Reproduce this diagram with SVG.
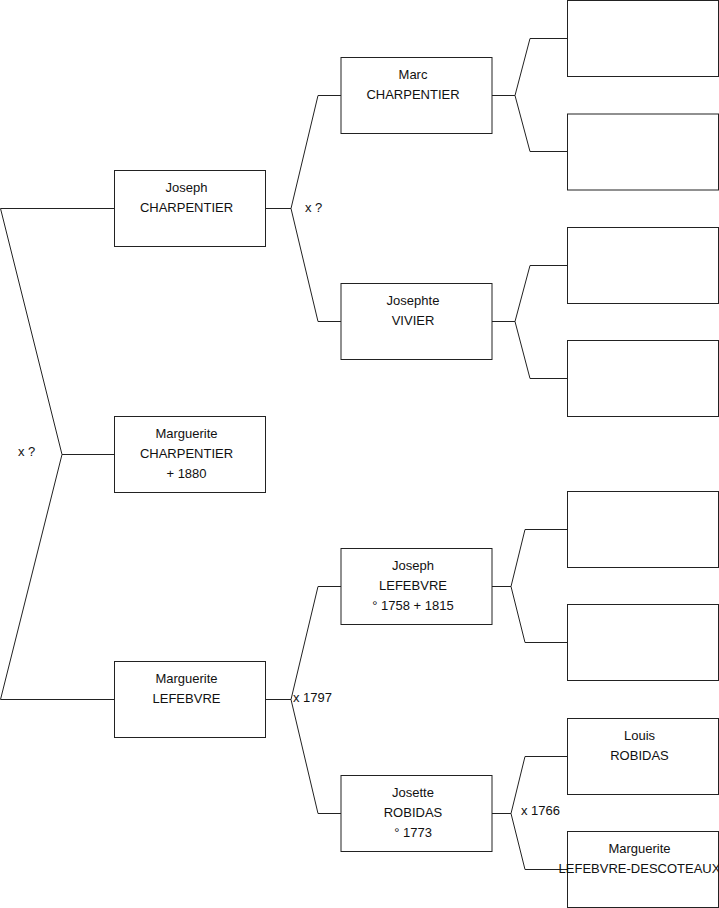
<svg xmlns="http://www.w3.org/2000/svg" width="719" height="908" viewBox="0 0 719 908">
<style>
.box{fill:#fff;stroke:#222;stroke-width:1}
.con{fill:none;stroke:#222;stroke-width:1}
text{font-family:"Liberation Sans",Arial,sans-serif;font-size:13px;fill:#111}
.c{text-anchor:middle}
</style>
<rect width="719" height="908" fill="#fff"/>
<g id="connectors">
<path class="con" d="M114.5,208.5 H0.5 L62,454.5 L0.5,699.5 H114.5 M62,454.5 H114.5"/>
<path class="con" d="M265.5,208.5 H291 L318,95.5 H341 M291,208.5 L318,321.5 H341"/>
<path class="con" d="M265.5,699.5 H291 L318,586.5 H341 M291,699.5 L318,813.5 H341"/>
<path class="con" d="M492,95.5 H515 L530,38.5 H567 M515,95.5 L530,151.5 H567"/>
<path class="con" d="M492,321.5 H515 L530,265.5 H567 M515,321.5 L530,378.5 H567"/>
<path class="con" d="M492,586.5 H511 L525,529.5 H567 M511,586.5 L525,642.5 H567"/>
<path class="con" d="M492,813.5 H511 L525,756.5 H567 M511,813.5 L525,869.5 H567"/>
<text x="18" y="456">x ?</text>
<text x="305" y="212">x ?</text>
<text x="293" y="702">x 1797</text>
<text x="521" y="815">x 1766</text>
</g>
<g id="joseph-charpentier"><rect class="box" x="114.5" y="170.5" width="151" height="76"/><text class="c" x="186.5" y="191.5">Joseph</text><text class="c" x="186.5" y="211.5">CHARPENTIER</text></g>
<g id="marguerite-charpentier"><rect class="box" x="114.5" y="416.5" width="151" height="76"/><text class="c" x="186.5" y="438">Marguerite</text><text class="c" x="186.5" y="458">CHARPENTIER</text><text class="c" x="186.5" y="478">+ 1880</text></g>
<g id="marguerite-lefebvre"><rect class="box" x="114.5" y="661.5" width="151" height="76"/><text class="c" x="186.5" y="683">Marguerite</text><text class="c" x="186.5" y="703">LEFEBVRE</text></g>
<g id="marc-charpentier"><rect class="box" x="341" y="57.5" width="151" height="76"/><text class="c" x="413" y="78.5">Marc</text><text class="c" x="413" y="98.5">CHARPENTIER</text></g>
<g id="josephte-vivier"><rect class="box" x="341" y="283.5" width="151" height="76"/><text class="c" x="413" y="304.5">Josephte</text><text class="c" x="413" y="324.5">VIVIER</text></g>
<g id="joseph-lefebvre"><rect class="box" x="341" y="548.5" width="151" height="76"/><text class="c" x="413" y="569.5">Joseph</text><text class="c" x="413" y="589.5">LEFEBVRE</text><text class="c" x="413" y="609.5">° 1758 + 1815</text></g>
<g id="josette-robidas"><rect class="box" x="341" y="775.5" width="151" height="76"/><text class="c" x="413" y="796.5">Josette</text><text class="c" x="413" y="816.5">ROBIDAS</text><text class="c" x="413" y="836.5">° 1773</text></g>
<g id="p1"><rect class="box" x="567.5" y="0.5" width="151" height="76"/></g>
<g id="p2"><rect class="box" x="567.5" y="114" width="151" height="76"/></g>
<g id="p3"><rect class="box" x="567.5" y="227.5" width="151" height="76"/></g>
<g id="p4"><rect class="box" x="567.5" y="340.5" width="151" height="76"/></g>
<g id="p5"><rect class="box" x="567.5" y="491.5" width="151" height="76"/></g>
<g id="p6"><rect class="box" x="567.5" y="604.5" width="151" height="76"/></g>
<g id="louis-robidas"><rect class="box" x="567.5" y="718.5" width="151" height="76"/><text class="c" x="639.5" y="739.5">Louis</text><text class="c" x="639.5" y="759.5">ROBIDAS</text></g>
<g id="marguerite-lefebvre-descoteaux"><rect class="box" x="567.5" y="831.5" width="151" height="76"/><text class="c" x="639.5" y="852.5">Marguerite</text><text class="c" x="639.5" y="872.5">LEFEBVRE-DESCOTEAUX</text></g>
</svg>
